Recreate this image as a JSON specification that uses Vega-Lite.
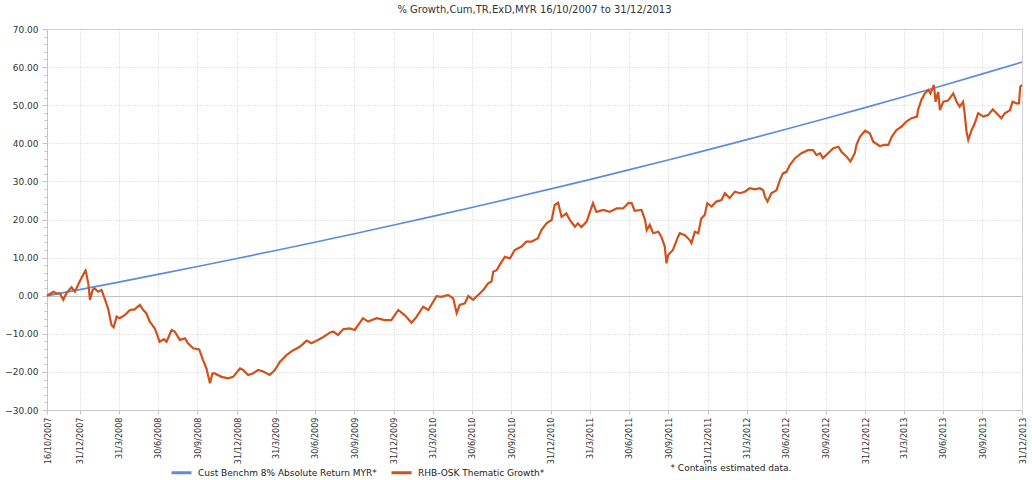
{
  "$schema": "https://vega.github.io/schema/vega-lite/v6.json",
  "autosize": {"type": "none"},
  "width": 975,
  "height": 381,
  "padding": {"left": 47, "top": 29, "right": 10, "bottom": 70},
  "background": "white",
  "title": {
    "text": "% Growth,Cum,TR,ExD,MYR 16/10/2007 to 31/12/2013",
    "font": "DejaVu Sans",
    "fontSize": 10,
    "fontWeight": "normal",
    "color": "#333333",
    "offset": 10
  },
  "config": {
    "view": {"stroke": "#d4d4d4", "strokeWidth": 1},
    "axis": {"labelColor": "#333333", "domainColor": "#c4c4c4", "tickColor": "#c4c4c4"}
  },
  "datasets": {
    "bench": [
      {"date": "2007-10-16", "value": 0},
      {"date": "2007-12-31", "value": 1.61},
      {"date": "2008-03-31", "value": 3.58},
      {"date": "2008-06-30", "value": 5.59},
      {"date": "2008-09-30", "value": 7.66},
      {"date": "2008-12-31", "value": 9.77},
      {"date": "2009-03-31", "value": 11.87},
      {"date": "2009-06-30", "value": 14.04},
      {"date": "2009-09-30", "value": 16.27},
      {"date": "2009-12-31", "value": 18.55},
      {"date": "2010-03-31", "value": 20.82},
      {"date": "2010-06-30", "value": 23.16},
      {"date": "2010-09-30", "value": 25.57},
      {"date": "2010-12-31", "value": 28.03},
      {"date": "2011-03-31", "value": 30.48},
      {"date": "2011-06-30", "value": 33.02},
      {"date": "2011-09-30", "value": 35.62},
      {"date": "2011-12-31", "value": 38.28},
      {"date": "2012-03-31", "value": 40.95},
      {"date": "2012-06-30", "value": 43.69},
      {"date": "2012-09-30", "value": 46.5},
      {"date": "2012-12-31", "value": 49.38},
      {"date": "2013-03-31", "value": 52.23},
      {"date": "2013-06-30", "value": 55.18},
      {"date": "2013-09-30", "value": 58.22},
      {"date": "2013-12-31", "value": 61.32}
    ],
    "fund": [
      {"date": "2007-10-16", "value": 0},
      {"date": "2007-10-31", "value": 1.05},
      {"date": "2007-11-07", "value": 0.6},
      {"date": "2007-11-15", "value": 0.6},
      {"date": "2007-11-23", "value": -1.1},
      {"date": "2007-11-30", "value": 0.6},
      {"date": "2007-12-12", "value": 2.2},
      {"date": "2007-12-20", "value": 1.05},
      {"date": "2007-12-31", "value": 3.7},
      {"date": "2008-01-12", "value": 6.3},
      {"date": "2008-01-14", "value": 6.6},
      {"date": "2008-01-20", "value": 3.25},
      {"date": "2008-01-24", "value": -1.1},
      {"date": "2008-01-30", "value": 1.5},
      {"date": "2008-02-04", "value": 1.9},
      {"date": "2008-02-12", "value": 1.05},
      {"date": "2008-02-20", "value": 1.5},
      {"date": "2008-02-27", "value": -0.7},
      {"date": "2008-03-06", "value": -3.3},
      {"date": "2008-03-14", "value": -7.7},
      {"date": "2008-03-19", "value": -8.3},
      {"date": "2008-03-26", "value": -5.5},
      {"date": "2008-04-02", "value": -5.9},
      {"date": "2008-04-14", "value": -5.1},
      {"date": "2008-04-26", "value": -3.75},
      {"date": "2008-05-07", "value": -3.6},
      {"date": "2008-05-19", "value": -2.4},
      {"date": "2008-05-27", "value": -3.75},
      {"date": "2008-06-03", "value": -4.6},
      {"date": "2008-06-11", "value": -6.8},
      {"date": "2008-06-23", "value": -8.6},
      {"date": "2008-07-04", "value": -12.1},
      {"date": "2008-07-14", "value": -11.4},
      {"date": "2008-07-20", "value": -12.1},
      {"date": "2008-08-01", "value": -9.0},
      {"date": "2008-08-08", "value": -9.4},
      {"date": "2008-08-20", "value": -11.6},
      {"date": "2008-09-01", "value": -11.2},
      {"date": "2008-09-08", "value": -12.5},
      {"date": "2008-09-20", "value": -13.8},
      {"date": "2008-10-04", "value": -14.1},
      {"date": "2008-10-13", "value": -16.9},
      {"date": "2008-10-21", "value": -19.1},
      {"date": "2008-10-29", "value": -23.0},
      {"date": "2008-11-04", "value": -20.4},
      {"date": "2008-11-09", "value": -20.4},
      {"date": "2008-11-25", "value": -21.3},
      {"date": "2008-12-10", "value": -21.7},
      {"date": "2008-12-22", "value": -21.3},
      {"date": "2009-01-07", "value": -19.1},
      {"date": "2009-01-14", "value": -19.5},
      {"date": "2009-01-26", "value": -20.8},
      {"date": "2009-02-06", "value": -20.4},
      {"date": "2009-02-18", "value": -19.5},
      {"date": "2009-03-02", "value": -19.9},
      {"date": "2009-03-17", "value": -20.8},
      {"date": "2009-03-29", "value": -19.5},
      {"date": "2009-04-10", "value": -17.3},
      {"date": "2009-04-25", "value": -15.6},
      {"date": "2009-05-11", "value": -14.3},
      {"date": "2009-05-26", "value": -13.4},
      {"date": "2009-06-11", "value": -11.8},
      {"date": "2009-06-22", "value": -12.5},
      {"date": "2009-07-04", "value": -11.8},
      {"date": "2009-07-19", "value": -10.9},
      {"date": "2009-08-04", "value": -9.7},
      {"date": "2009-08-12", "value": -9.4},
      {"date": "2009-08-23", "value": -10.3},
      {"date": "2009-09-04", "value": -8.8},
      {"date": "2009-09-19", "value": -8.6},
      {"date": "2009-10-01", "value": -9.0},
      {"date": "2009-10-20", "value": -5.9},
      {"date": "2009-11-01", "value": -6.8},
      {"date": "2009-11-21", "value": -5.9},
      {"date": "2009-12-10", "value": -6.4},
      {"date": "2009-12-25", "value": -6.4},
      {"date": "2010-01-10", "value": -3.75},
      {"date": "2010-01-25", "value": -5.1},
      {"date": "2010-02-10", "value": -7.1},
      {"date": "2010-02-22", "value": -5.5},
      {"date": "2010-03-09", "value": -2.9},
      {"date": "2010-03-21", "value": -3.75},
      {"date": "2010-04-09", "value": -0.1},
      {"date": "2010-04-21", "value": -0.3},
      {"date": "2010-05-06", "value": 0.2},
      {"date": "2010-05-18", "value": -0.7},
      {"date": "2010-05-26", "value": -4.6},
      {"date": "2010-06-02", "value": -2.4},
      {"date": "2010-06-14", "value": -2.0},
      {"date": "2010-06-22", "value": -0.1},
      {"date": "2010-07-03", "value": -1.1},
      {"date": "2010-07-15", "value": 0.2},
      {"date": "2010-07-27", "value": 1.5},
      {"date": "2010-08-07", "value": 3.25},
      {"date": "2010-08-15", "value": 3.7},
      {"date": "2010-08-19", "value": 6.3},
      {"date": "2010-08-27", "value": 6.7},
      {"date": "2010-09-03", "value": 8.1},
      {"date": "2010-09-15", "value": 10.2},
      {"date": "2010-09-27", "value": 9.8},
      {"date": "2010-10-08", "value": 12.0},
      {"date": "2010-10-24", "value": 12.9},
      {"date": "2010-11-04", "value": 14.2},
      {"date": "2010-11-16", "value": 14.2},
      {"date": "2010-12-01", "value": 15.1},
      {"date": "2010-12-09", "value": 17.2},
      {"date": "2010-12-21", "value": 19.0},
      {"date": "2011-01-02", "value": 19.9},
      {"date": "2011-01-09", "value": 23.8},
      {"date": "2011-01-17", "value": 24.4},
      {"date": "2011-01-25", "value": 20.7},
      {"date": "2011-02-05", "value": 21.6},
      {"date": "2011-02-13", "value": 19.9},
      {"date": "2011-02-25", "value": 18.1},
      {"date": "2011-03-04", "value": 19.0},
      {"date": "2011-03-12", "value": 18.0},
      {"date": "2011-03-24", "value": 19.4},
      {"date": "2011-04-01", "value": 22.0},
      {"date": "2011-04-08", "value": 24.3},
      {"date": "2011-04-16", "value": 22.0},
      {"date": "2011-05-02", "value": 22.5},
      {"date": "2011-05-17", "value": 22.0},
      {"date": "2011-06-02", "value": 22.9},
      {"date": "2011-06-17", "value": 22.9},
      {"date": "2011-06-29", "value": 24.3},
      {"date": "2011-07-07", "value": 24.3},
      {"date": "2011-07-14", "value": 22.3},
      {"date": "2011-07-30", "value": 22.5},
      {"date": "2011-08-07", "value": 19.9},
      {"date": "2011-08-11", "value": 17.2},
      {"date": "2011-08-18", "value": 18.6},
      {"date": "2011-08-26", "value": 16.4},
      {"date": "2011-09-07", "value": 16.8},
      {"date": "2011-09-14", "value": 15.5},
      {"date": "2011-09-22", "value": 12.9},
      {"date": "2011-09-26", "value": 8.5},
      {"date": "2011-09-30", "value": 10.7},
      {"date": "2011-10-11", "value": 12.0},
      {"date": "2011-10-23", "value": 15.5},
      {"date": "2011-10-27", "value": 16.4},
      {"date": "2011-11-08", "value": 15.9},
      {"date": "2011-11-19", "value": 14.6},
      {"date": "2011-11-23", "value": 13.8},
      {"date": "2011-12-01", "value": 16.8},
      {"date": "2011-12-09", "value": 16.4},
      {"date": "2011-12-16", "value": 20.3},
      {"date": "2011-12-24", "value": 21.2},
      {"date": "2011-12-30", "value": 24.3},
      {"date": "2012-01-09", "value": 23.4},
      {"date": "2012-01-20", "value": 24.7},
      {"date": "2012-02-01", "value": 25.1},
      {"date": "2012-02-09", "value": 26.9},
      {"date": "2012-02-20", "value": 25.6},
      {"date": "2012-03-03", "value": 27.3},
      {"date": "2012-03-15", "value": 26.9},
      {"date": "2012-03-26", "value": 27.3},
      {"date": "2012-04-07", "value": 28.2},
      {"date": "2012-04-19", "value": 27.9},
      {"date": "2012-04-30", "value": 28.2},
      {"date": "2012-05-08", "value": 27.7},
      {"date": "2012-05-12", "value": 26.0},
      {"date": "2012-05-18", "value": 24.7},
      {"date": "2012-05-27", "value": 26.9},
      {"date": "2012-06-08", "value": 27.7},
      {"date": "2012-06-16", "value": 30.4},
      {"date": "2012-06-23", "value": 32.1},
      {"date": "2012-07-01", "value": 32.5},
      {"date": "2012-07-09", "value": 34.3},
      {"date": "2012-07-21", "value": 36.1},
      {"date": "2012-08-05", "value": 37.4},
      {"date": "2012-08-20", "value": 38.2},
      {"date": "2012-09-01", "value": 38.2},
      {"date": "2012-09-09", "value": 36.9},
      {"date": "2012-09-17", "value": 37.4},
      {"date": "2012-09-24", "value": 36.1},
      {"date": "2012-10-06", "value": 37.4},
      {"date": "2012-10-18", "value": 38.7},
      {"date": "2012-10-30", "value": 39.1},
      {"date": "2012-11-06", "value": 37.8},
      {"date": "2012-11-18", "value": 36.5},
      {"date": "2012-11-27", "value": 35.2},
      {"date": "2012-12-07", "value": 37.4},
      {"date": "2012-12-11", "value": 39.6},
      {"date": "2012-12-19", "value": 41.7},
      {"date": "2012-12-31", "value": 43.3},
      {"date": "2013-01-11", "value": 42.6},
      {"date": "2013-01-19", "value": 40.4},
      {"date": "2013-02-03", "value": 39.3},
      {"date": "2013-02-15", "value": 39.6},
      {"date": "2013-02-23", "value": 39.6},
      {"date": "2013-03-03", "value": 41.7},
      {"date": "2013-03-14", "value": 43.5},
      {"date": "2013-03-26", "value": 44.4},
      {"date": "2013-04-06", "value": 45.7},
      {"date": "2013-04-18", "value": 46.6},
      {"date": "2013-05-01", "value": 47.0},
      {"date": "2013-05-03", "value": 48.7},
      {"date": "2013-05-11", "value": 51.4},
      {"date": "2013-05-19", "value": 53.1},
      {"date": "2013-05-27", "value": 54.0},
      {"date": "2013-06-01", "value": 53.1},
      {"date": "2013-06-09", "value": 55.3},
      {"date": "2013-06-13", "value": 50.9},
      {"date": "2013-06-19", "value": 53.5},
      {"date": "2013-06-23", "value": 48.7},
      {"date": "2013-07-01", "value": 50.9},
      {"date": "2013-07-12", "value": 51.2},
      {"date": "2013-07-24", "value": 53.1},
      {"date": "2013-08-01", "value": 50.9},
      {"date": "2013-08-08", "value": 49.6},
      {"date": "2013-08-16", "value": 50.9},
      {"date": "2013-08-20", "value": 47.4},
      {"date": "2013-08-24", "value": 43.0},
      {"date": "2013-08-28", "value": 40.9},
      {"date": "2013-09-05", "value": 43.5},
      {"date": "2013-09-12", "value": 45.2},
      {"date": "2013-09-20", "value": 47.9},
      {"date": "2013-10-02", "value": 47.0},
      {"date": "2013-10-13", "value": 47.4},
      {"date": "2013-10-24", "value": 48.9},
      {"date": "2013-11-02", "value": 47.9},
      {"date": "2013-11-13", "value": 46.6},
      {"date": "2013-11-21", "value": 47.9},
      {"date": "2013-12-03", "value": 48.7},
      {"date": "2013-12-09", "value": 50.9},
      {"date": "2013-12-18", "value": 50.5},
      {"date": "2013-12-24", "value": 50.5},
      {"date": "2013-12-27", "value": 54.9},
      {"date": "2013-12-31", "value": 55.3}
    ]
  },
  "encoding": {
    "x": {
      "field": "date",
      "type": "temporal",
      "scale": {"type": "utc", "domain": [{"year": 2007, "month": 10, "date": 16, "utc": true}, {"year": 2013, "month": 12, "date": 31, "utc": true}], "nice": false},
      "axis": {
        "title": "* Contains estimated data.",
        "titleFont": "DejaVu Sans",
        "titleFontSize": 9,
        "titleFontWeight": "normal",
        "titleColor": "#222222",
        "titleAlign": "left",
        "titleBaseline": "middle",
        "titleX": 623,
        "titleY": 57,
        "values": [
          {"year": 2007, "month": 10, "date": 16, "utc": true},
          {"year": 2007, "month": 12, "date": 31, "utc": true},
          {"year": 2008, "month": 3, "date": 31, "utc": true},
          {"year": 2008, "month": 6, "date": 30, "utc": true},
          {"year": 2008, "month": 9, "date": 30, "utc": true},
          {"year": 2008, "month": 12, "date": 31, "utc": true},
          {"year": 2009, "month": 3, "date": 31, "utc": true},
          {"year": 2009, "month": 6, "date": 30, "utc": true},
          {"year": 2009, "month": 9, "date": 30, "utc": true},
          {"year": 2009, "month": 12, "date": 31, "utc": true},
          {"year": 2010, "month": 3, "date": 31, "utc": true},
          {"year": 2010, "month": 6, "date": 30, "utc": true},
          {"year": 2010, "month": 9, "date": 30, "utc": true},
          {"year": 2010, "month": 12, "date": 31, "utc": true},
          {"year": 2011, "month": 3, "date": 31, "utc": true},
          {"year": 2011, "month": 6, "date": 30, "utc": true},
          {"year": 2011, "month": 9, "date": 30, "utc": true},
          {"year": 2011, "month": 12, "date": 31, "utc": true},
          {"year": 2012, "month": 3, "date": 31, "utc": true},
          {"year": 2012, "month": 6, "date": 30, "utc": true},
          {"year": 2012, "month": 9, "date": 30, "utc": true},
          {"year": 2012, "month": 12, "date": 31, "utc": true},
          {"year": 2013, "month": 3, "date": 31, "utc": true},
          {"year": 2013, "month": 6, "date": 30, "utc": true},
          {"year": 2013, "month": 9, "date": 30, "utc": true},
          {"year": 2013, "month": 12, "date": 31, "utc": true}
        ],
        "labelExpr": "utcFormat(datum.value, '%d/%-m/%Y')",
        "labelAngle": -90,
        "labelFont": "Liberation Sans Narrow, DejaVu Sans Condensed, Roboto Condensed, Liberation Sans",
        "labelFontSize": 9,
        "labelOverlap": false,
        "labelBound": false,
        "labelPadding": 3,
        "tickSize": 4,
        "grid": true,
        "gridColor": "#cfcfcf",
        "gridDash": [1, 2],
        "gridWidth": 1
      }
    },
    "y": {
      "field": "value",
      "type": "quantitative",
      "scale": {"domain": [-30, 70], "nice": false, "zero": false},
      "axis": {
        "title": null,
        "values": [-30, -28, -26, -24, -22, -20, -18, -16, -14, -12, -10, -8, -6, -4, -2, 0, 2, 4, 6, 8, 10, 12, 14, 16, 18, 20, 22, 24, 26, 28, 30, 32, 34, 36, 38, 40, 42, 44, 46, 48, 50, 52, 54, 56, 58, 60, 62, 64, 66, 68, 70],
        "labelExpr": "datum.value % 10 === 0 ? format(datum.value, '.2f') : ''",
        "labelFont": "DejaVu Sans",
        "labelFontSize": 9,
        "labelOverlap": false,
        "labelBound": false,
        "labelPadding": 4,
        "tickSize": {"condition": {"test": "datum.value % 10 === 0", "value": 5}, "value": 3},
        "grid": true,
        "gridOpacity": {"condition": {"test": "datum.value % 10 === 0", "value": 1}, "value": 0},
        "gridDash": {"condition": {"test": "datum.value === 0", "value": []}, "value": [1, 2]},
        "gridColor": {"condition": {"test": "datum.value === 0", "value": "#c4c4c4"}, "value": "#cfcfcf"},
        "gridWidth": 1
      }
    }
  },
  "layer": [
    {
      "data": {"name": "bench"},
      "mark": {"type": "line", "strokeWidth": 1.7, "interpolate": "monotone"},
      "encoding": {
        "color": {
          "datum": "Cust Benchm 8% Absolute Return MYR*",
          "type": "nominal",
          "scale": {"domain": ["Cust Benchm 8% Absolute Return MYR*", "RHB-OSK Thematic Growth*"], "range": ["#5b8ddc", "#d2501a"]},
          "legend": {
            "orient": "none",
            "legendX": 123,
            "legendY": 432,
            "direction": "horizontal",
            "title": null,
            "symbolType": "stroke",
            "symbolStrokeWidth": 3,
            "symbolSize": 400,
            "labelFont": "DejaVu Sans",
            "labelFontSize": 9,
            "labelLimit": 400,
            "labelOffset": 5,
            "labelColor": "#222222",
            "columnPadding": 8,
            "padding": 0
          }
        }
      }
    },
    {
      "data": {"name": "fund"},
      "mark": {"type": "line", "strokeWidth": 2.2},
      "encoding": {
        "color": {"datum": "RHB-OSK Thematic Growth*", "type": "nominal"}
      }
    }
  ]
}
